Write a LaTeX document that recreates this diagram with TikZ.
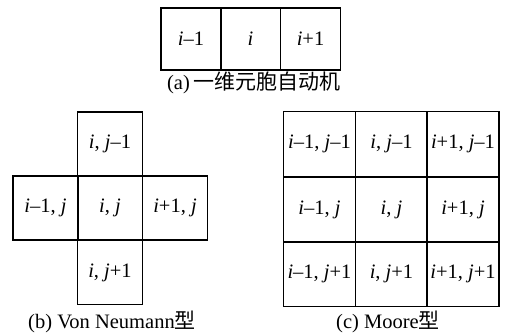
\documentclass[tikz,border=0pt]{standalone}
\usepackage{fontspec}
\setmainfont{Liberation Serif}
\newfontfamily\cjk{Noto Sans CJK SC}
\begin{document}
\begin{tikzpicture}[x=1pt,y=-1pt,
  cellbase/.style={draw,line width=1.5pt,inner sep=0pt,font=\fontsize{20.5}{24}\selectfont},
  cellA/.style={cellbase,minimum width=60pt,minimum height=62pt},
  cellB/.style={cellbase,minimum width=65pt,minimum height=64pt},
  cellC/.style={cellbase,minimum width=72pt,minimum height=65pt},
  captext/.style={inner sep=0pt,font=\fontsize{20.5}{24}\selectfont}]
\useasboundingbox (0,0) rectangle (506,334);
% (a)
\node[cellA] (a1) at (191,39) {\textit{i}–1};
\node[cellA] (a2) at (250.5,39) {\textit{i}};
\node[cellA] (a3) at (310.5,39) {\textit{i}+1};
\node[captext] (capa) at (254,83) {(a)\hspace{4pt}{\cjk\fontsize{21}{24}\selectfont 一维元胞自动机}};
% (b)
\node[cellB] (bn) at (110,144) {\textit{i}, \textit{j}–1};
\node[cellB] (bw) at (45.5,208) {\textit{i}–1, \textit{j}};
\node[cellB] (bc) at (110,208) {\textit{i}, \textit{j}};
\node[cellB] (be) at (175,208) {\textit{i}+1, \textit{j}};
\node[cellB] (bs) at (110,272.5) {\textit{i}, \textit{j}+1};
\node[captext] (capb) at (112,322) {(b) Von Neumann{\cjk\fontsize{21}{24}\selectfont 型}};
% (c)
\node[cellC] (c11) at (319.5,144) {\textit{i}–1, \textit{j}–1};
\node[cellC] (c12) at (391.5,144) {\textit{i}, \textit{j}–1};
\node[cellC] (c13) at (463,144) {\textit{i}+1, \textit{j}–1};
\node[cellC] (c21) at (319.5,209.5) {\textit{i}–1, \textit{j}};
\node[cellC] (c22) at (391.5,209.5) {\textit{i}, \textit{j}};
\node[cellC] (c23) at (463,209.5) {\textit{i}+1, \textit{j}};
\node[cellC] (c31) at (319.5,274) {\textit{i}–1, \textit{j}+1};
\node[cellC] (c32) at (391.5,274) {\textit{i}, \textit{j}+1};
\node[cellC] (c33) at (463,274) {\textit{i}+1, \textit{j}+1};
\node[captext] (capc) at (388,322) {(c) Moore{\cjk\fontsize{21}{24}\selectfont 型}};
\end{tikzpicture}
\end{document}
